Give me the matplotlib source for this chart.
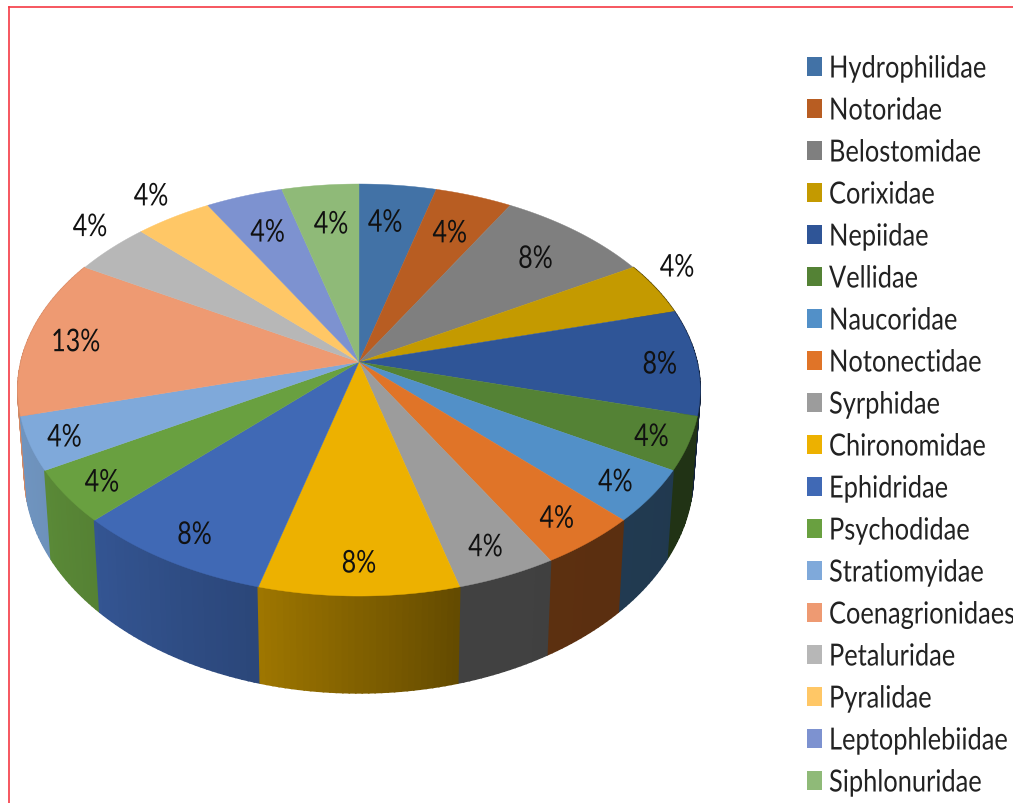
import numpy as np
import matplotlib
matplotlib.use('Agg')
import matplotlib.pyplot as plt
from matplotlib.patches import Rectangle
from matplotlib.patheffects import AbstractPathEffect
from matplotlib.transforms import Affine2D

families = ['Hydrophilidae', 'Notoridae', 'Belostomidae', 'Corixidae', 'Nepiidae', 'Vellidae',
            'Naucoridae', 'Notonectidae', 'Syrphidae', 'Chironomidae', 'Ephidridae', 'Psychodidae',
            'Stratiomyidae', 'Coenagrionidaes', 'Petaluridae', 'Pyralidae', 'Leptophlebiidae',
            'Siphlonuridae']
counts = [1, 1, 2, 1, 2, 1, 1, 1, 1, 2, 2, 1, 1, 3, 1, 1, 1, 1]
colors = ['#4272A6', '#B85D22', '#7F7F7F', '#C49A00', '#2F5597', '#548235', '#5290C8', '#E07428',
          '#9C9C9C', '#EDB100', '#4069B5', '#69A040', '#7FA9DA', '#EE9A72', '#B7B7B7', '#FFC766',
          '#7D92D0', '#8FBA78']
# how far out each percent label sits, 1 = on the rim, and how far it is turned off the slice middle
label_r = [.78, .77, .795, 1.13, .89, .893, .886, .871, .871, .868, .873, .888, .899, .858, 1.153,
           1.166, .775, .77]
label_turn = [-1.2, 0, 0, -4.5, 0, 0, 0, 0, 0, 0, 0, 0, 0, 0, 3, 1, 0, .7]

plt.rcParams['font.family'] = ['Lato', 'DejaVu Sans']

# Perspective of the pie, in pixels
cx, cy = 359, 363
rx, ry, k = 338, 202.2, 0.136
floor_y, floor_ry, floor_x = 445, 215, 0.98


class TallText(AbstractPathEffect):
    # the original picture is stretched upwards, so its text is too
    def __init__(self, stretch):
        super().__init__()
        self.stretch = stretch

    def draw_path(self, renderer, gc, tpath, affine, rgbFace=None):
        renderer.draw_path(gc, tpath, Affine2D().scale(1, self.stretch) + affine, rgbFace)


def project(angle, r=1.0, floor=False):
    # angle in degrees, clockwise from 12 o'clock
    t = np.radians(angle)
    u, v = r * np.sin(t), -r * np.cos(t)
    d = 1 - k * v
    if floor:
        return cx + floor_x * rx * u / d, floor_y + floor_ry * v / d
    return cx + rx * u / d, cy + ry * v / d


def wall_shade(angle):
    return np.interp(angle, [90, 165, 195, 225, 240, 270, 300], [.38, .42, .67, .81, .86, .9, .92])


fig = plt.figure(figsize=(10.13, 8.04), dpi=100)
ax = fig.add_axes([0, 0, 1, 1])
ax.set_xlim(0, 1013)
ax.set_ylim(804, 0)
ax.axis('off')

# Red frame, only top and left show
ax.plot([9, 1013], [8, 8], color='#F53A44', lw=1.2)
ax.plot([9, 9], [8, 804], color='#F53A44', lw=1.2)

edges = np.cumsum([0] + counts) / sum(counts) * 360

# Outer wall in thin strips, so the shading runs along the rim
strips = []
for i in range(len(counts)):
    a0, a1 = max(edges[i], 60), min(edges[i + 1], 300)
    if a1 <= a0:
        continue
    steps = np.linspace(a0, a1, int((a1 - a0)) + 2)
    for s0, s1 in zip(steps[:-1], steps[1:]):
        strips.append((abs((s0 + s1) / 2 - 180), s0, s1, i))
for _, s0, s1, i in sorted(strips, reverse=True):
    top = project(np.array([s0, s1]))
    bottom = project(np.array([s1, s0]), floor=True)
    shade = wall_shade((s0 + s1) / 2)
    rgb = np.array(matplotlib.colors.to_rgb(colors[i])) * shade
    ax.fill(np.r_[top[0], bottom[0]], np.r_[top[1], bottom[1]], color=rgb, lw=1.2, zorder=2)

# Top face
for i in range(len(counts)):
    angles = np.linspace(edges[i], edges[i + 1], 60)
    x, y = project(angles)
    ax.fill(np.r_[cx, x], np.r_[cy, y], color=colors[i], lw=0.3, zorder=3)

# Percent labels
for i, c in enumerate(counts):
    mid = (edges[i] + edges[i + 1]) / 2 + label_turn[i]
    x, y = project(mid, label_r[i])
    ax.text(x, y + 4, '%d%%' % int(100 * c / sum(counts) + 0.5), ha='center', va='center',
            fontsize=18, color='#111111', zorder=4, path_effects=[TallText(1.25)])

# Legend
for i, name in enumerate(families):
    row = 67 + 42 * i
    ax.add_patch(Rectangle((807, row - 9.5), 15, 19, color=colors[i], lw=0, zorder=3))
    ax.text(829, row + 4, name, ha='left', va='center', fontsize=18.3, color='#222222', zorder=4,
            path_effects=[TallText(1.2)])

plt.savefig('out.png', dpi=100)
